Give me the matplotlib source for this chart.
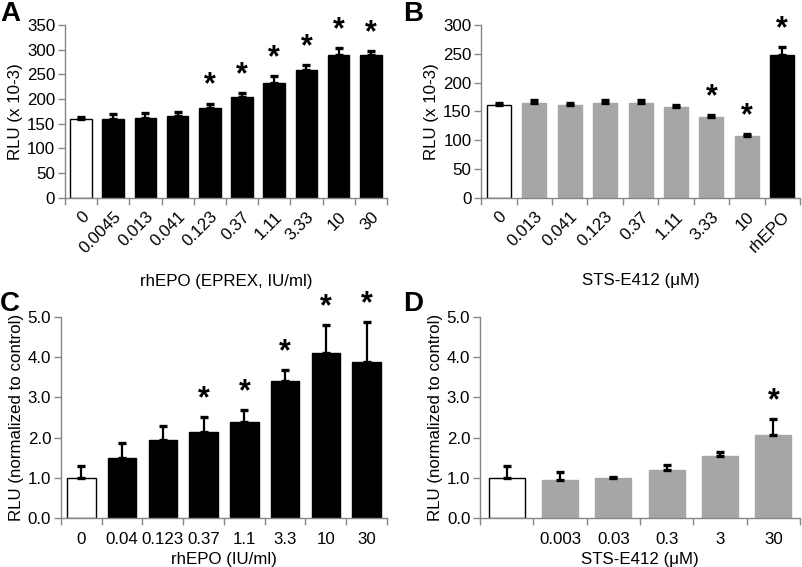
import matplotlib
matplotlib.use("Agg")
import matplotlib.pyplot as plt
import numpy as np

plt.rcParams['font.family'] = ['Liberation Sans', 'DejaVu Sans']

# Panel A
a_labels = ['0', '0.0045', '0.013', '0.041', '0.123', '0.37', '1.11', '3.33', '10', '30']
a_vals = [159, 160, 162, 165, 182, 204, 233, 258, 289, 289]
a_err = [5, 9, 9, 9, 9, 9, 14, 11, 14, 9]
a_sig = [0, 0, 0, 0, 1, 1, 1, 1, 1, 1]
a_col = ['white'] + ['black'] * 9

# Panel B
b_labels = ['0', '0.013', '0.041', '0.123', '0.37', '1.11', '3.33', '10', 'rhEPO']
b_vals = [161, 164, 161, 165, 165, 157, 140, 107, 248]
b_err = [4, 5, 4, 5, 5, 4, 3, 3, 14]
b_sig = [0, 0, 0, 0, 0, 0, 1, 1, 1]
b_col = ['white'] + ['#a6a6a6'] * 7 + ['black']

# Panel C
c_labels = ['0', '0.04', '0.123', '0.37', '1.1', '3.3', '10', '30']
c_vals = [1.0, 1.50, 1.95, 2.15, 2.39, 3.40, 4.10, 3.89]
c_err = [0.30, 0.37, 0.33, 0.35, 0.30, 0.28, 0.69, 0.99]
c_sig = [0, 0, 0, 1, 1, 1, 1, 1]
c_col = ['white'] + ['black'] * 7

# Panel D
d_labels = ['', '0.003', '0.03', '0.3', '3', '30']
d_vals = [1.0, 0.95, 1.0, 1.19, 1.53, 2.07]
d_err = [0.30, 0.20, 0.03, 0.12, 0.12, 0.39]
d_sig = [0, 0, 0, 0, 0, 1]
d_col = ['white'] + ['#a6a6a6'] * 5

fig = plt.figure(figsize=(8.02, 5.67), dpi=100)
SPINE = '#868686'
FS = 12.2


def panel(rect, labels, vals, err, sig, cols, ymax, ystep, yfmt, ylabel, xlabel,
          rot, width):
    ax = fig.add_axes(rect)
    n = len(vals)
    x = np.arange(n)
    for i in range(n):
        ec = 'black' if cols[i] in ('white', 'black') else cols[i]
        ax.bar(x[i], vals[i], width=width, color=cols[i], edgecolor=ec,
               linewidth=1.0, zorder=2)
    ax.errorbar(x, vals, yerr=[np.zeros(n), err], fmt='none', ecolor='black',
                elinewidth=1.6, capsize=3.2, capthick=2.4, zorder=3)
    for i in range(n):
        if sig[i]:
            ax.annotate('*', (x[i], vals[i] + err[i]), xytext=(0, 2),
                        textcoords='offset points', ha='center', va='bottom',
                        fontsize=22, fontweight='bold')
    ax.set_xlim(-0.5, n - 0.5)
    ax.set_ylim(0, ymax)
    ticks = np.arange(0, ymax + ystep / 2, ystep)
    ax.set_yticks(ticks)
    ax.set_yticklabels([yfmt.format(v) for v in ticks], fontsize=FS)
    ax.set_xticks(x)
    if rot:
        ax.set_xticklabels(labels, rotation=45, ha='right', rotation_mode='anchor',
                           fontsize=FS)
        ax.tick_params(axis='x', which='major', length=0, pad=8)
    else:
        ax.set_xticklabels(labels, fontsize=FS)
        ax.tick_params(axis='x', which='major', length=0, pad=10)
    ax.set_xticks(np.arange(-0.5, n, 1.0), minor=True)
    ax.tick_params(axis='x', which='minor', length=5, color=SPINE, width=1)
    ax.tick_params(axis='y', length=5, color=SPINE, width=1, pad=2)
    for s in ['top', 'right']:
        ax.spines[s].set_visible(False)
    for s in ['left', 'bottom']:
        ax.spines[s].set_color(SPINE)
        ax.spines[s].set_linewidth(1.0)
    ax.set_ylabel(ylabel, fontsize=FS, labelpad=3)
    ax.set_xlabel(xlabel, fontsize=FS, labelpad=13 if rot else 3.5)
    return ax


axA = panel([0.081, 0.651, 0.4015, 0.305], a_labels, a_vals, a_err, a_sig, a_col,
            350, 50, '{:.0f}', 'RLU (x 10-3)', 'rhEPO (EPREX, IU/ml)', True, 0.67)
axB = panel([0.600, 0.651, 0.3975, 0.305], b_labels, b_vals, b_err, b_sig, b_col,
            300, 50, '{:.0f}', 'RLU (x 10-3)', 'STS-E412 (\u03bcM)', True, 0.68)
axC = panel([0.076, 0.0864, 0.4065, 0.3546], c_labels, c_vals, c_err, c_sig, c_col,
            5.0, 1.0, '{:.1f}', 'RLU (normalized to control)', 'rhEPO (IU/ml)', False, 0.7)
axD = panel([0.5985, 0.0864, 0.399, 0.3546], d_labels, d_vals, d_err, d_sig, d_col,
            5.0, 1.0, '{:.1f}', 'RLU (normalized to control)', 'STS-E412 (\u03bcM)', False, 0.67)

for letter, (fx, fy) in zip('ABCD', [(0.0, 0.998), (0.503, 0.998), (0.0, 0.487), (0.503, 0.487)]):
    fig.text(fx, fy, letter, fontsize=20, fontweight='bold', ha='left', va='top')

fig.savefig('out.png', dpi=100)
